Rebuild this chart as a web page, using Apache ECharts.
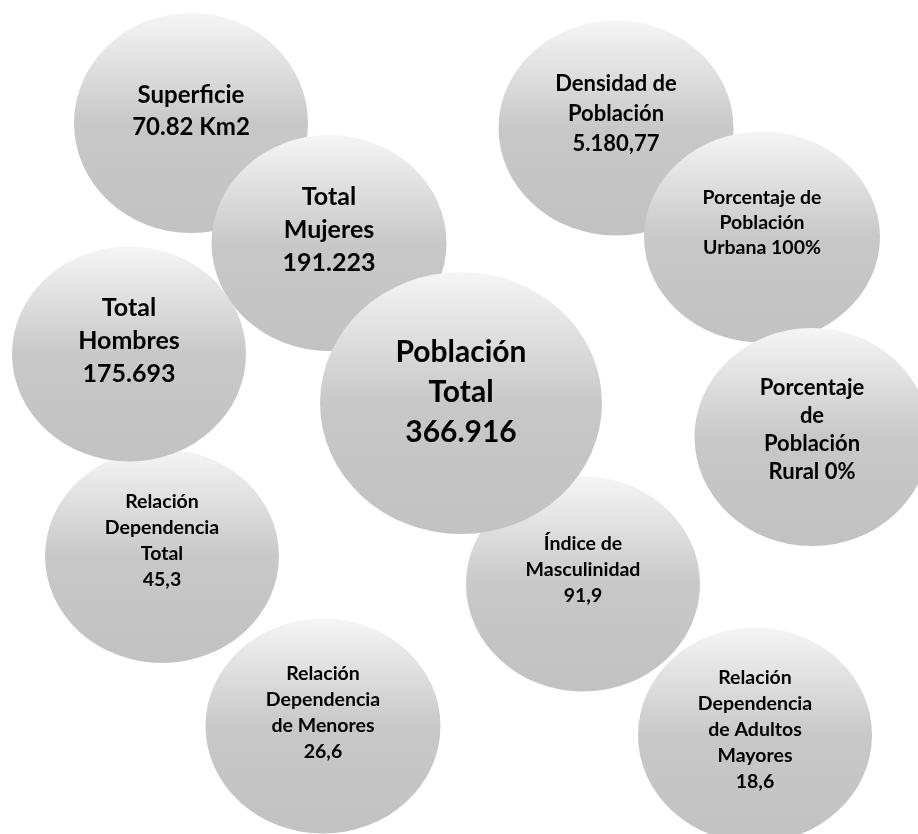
<!DOCTYPE html>
<html>
<head>
<meta charset="utf-8">
<script src="https://cdn.jsdelivr.net/npm/echarts@6/dist/echarts.min.js"></script>
<style>
html,body{margin:0;padding:0;background:#fff;}
#c{width:918px;height:834px;}
</style>
</head>
<body>
<div id="c"></div>
<script>
// Bubble texts (in original language), listed in drawing order (later ones on top)
const bubbleTexts = [
  "Superficie\n70.82 Km2",
  "Total\nMujeres\n191.223",
  "Relación\nDependencia\nTotal\n45,3",
  "Total\nHombres\n175.693",
  "Densidad de\nPoblación\n5.180,77",
  "Porcentaje de\nPoblación\nUrbana 100%",
  "Porcentaje\nde\nPoblación\nRural 0%",
  "Índice de\nMasculinidad\n91,9",
  "Población\nTotal\n366.916",
  "Relación\nDependencia\nde Menores\n26,6",
  "Relación\nDependencia\nde Adultos\nMayores\n18,6"
];
// Layout (pixel-space axis units)
const centerX = [191, 329, 162, 129, 616, 762, 812, 583, 461, 323, 755];
const centerY = [123, 243, 556, 354, 128, 237, 437, 584, 403, 726, 735];
const widths  = [234, 235, 234, 234, 235, 236, 235, 234, 282, 235, 234];
const heights = [220, 216, 214, 215, 215, 211, 218, 215, 262, 215, 215];
const fontSizes   = [24, 25, 19.5, 25, 22, 19.5, 22, 19.5, 30, 19.5, 19.5];
const lineHeights = [32, 33, 26, 33, 30, 25, 28, 26, 40, 26, 26];
const textOffsetY = [-12, -13, -15, -13, -14, -14, -7, -14, -11, -13, -5];

const chart = echarts.init(document.getElementById('c'), null, {renderer: 'canvas'});

const data = bubbleTexts.map((t, i) => ({
  value: [centerX[i], centerY[i]],
  symbolSize: [widths[i], heights[i]],
  label: {
    show: true,
    position: 'inside',
    formatter: t,
    fontSize: fontSizes[i],
    lineHeight: lineHeights[i],
    fontWeight: 'bold',
    fontFamily: 'Lato, "Open Sans", sans-serif',
    color: '#000',
    offset: [0, textOffsetY[i]],
    align: 'center'
  }
}));

chart.setOption({
  animation: false,
  backgroundColor: '#ffffff',
  grid: {left: 0, right: 0, top: 0, bottom: 0},
  xAxis: {type: 'value', min: 0, max: 918, show: false},
  yAxis: {type: 'value', min: 0, max: 834, inverse: true, show: false},
  series: [{
    type: 'scatter',
    symbol: 'circle',
    data: data,
    itemStyle: {
      opacity: 1,
      color: new echarts.graphic.LinearGradient(0, 0, 0, 1, [
        {offset: 0, color: '#f5f5f5'},
        {offset: 0.5, color: '#c8c8c8'},
        {offset: 1, color: '#c2c2c2'}
      ])
    },
    emphasis: {disabled: true}
  }]
});
</script>
</body>
</html>
